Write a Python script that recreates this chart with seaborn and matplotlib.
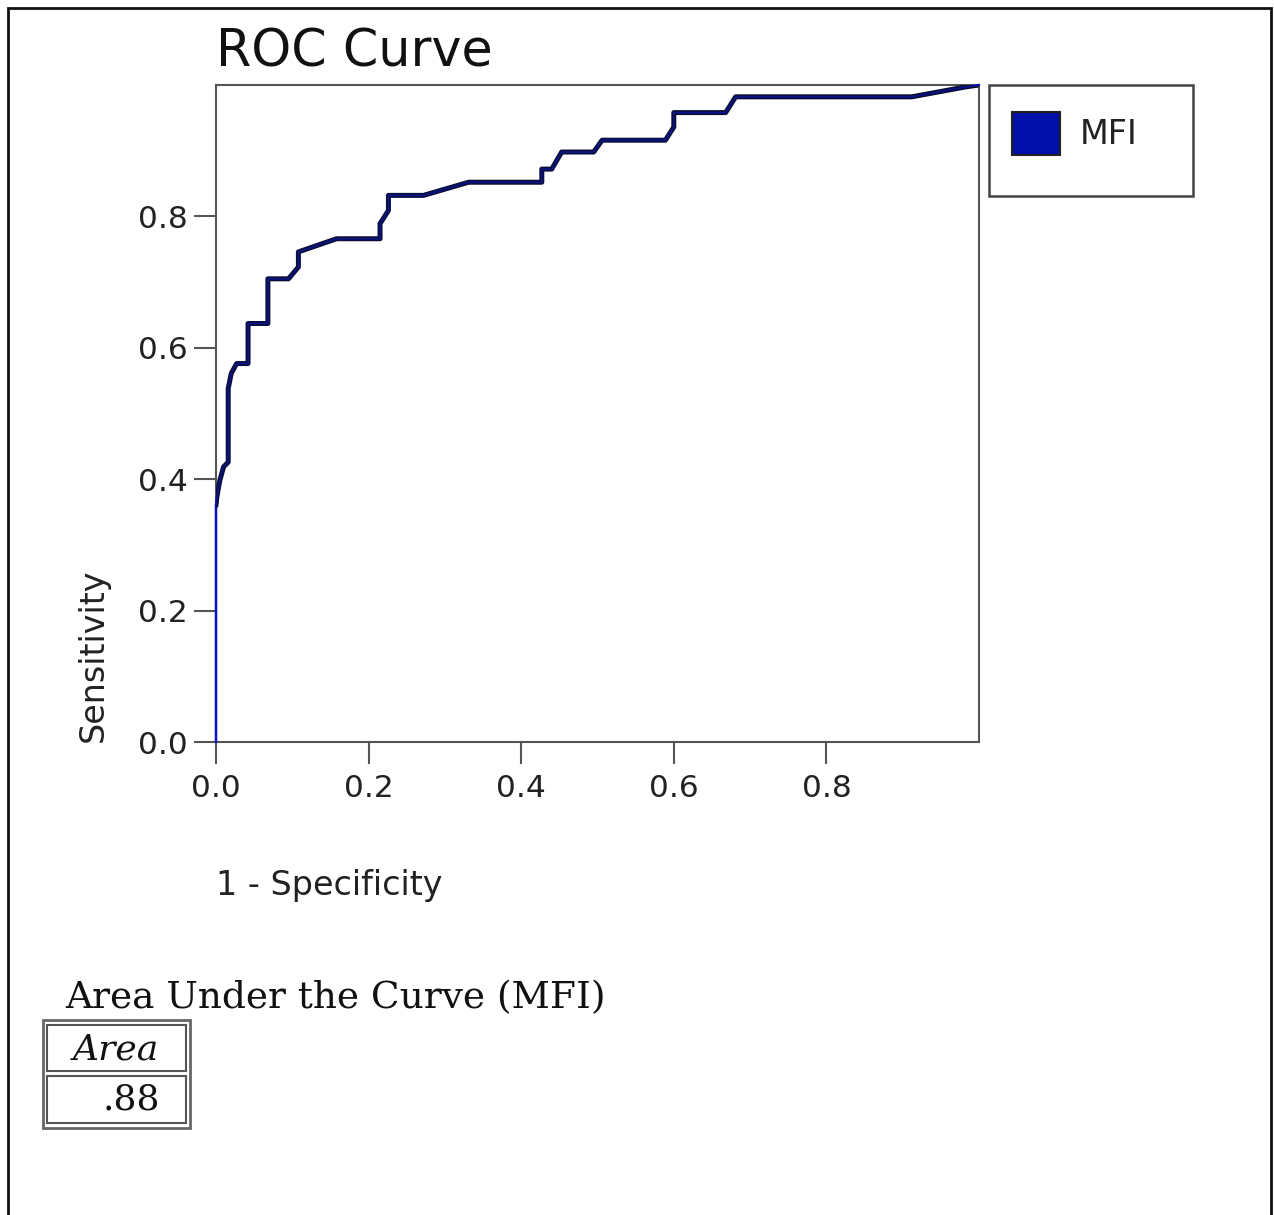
import pandas as pd
import seaborn as sns
import matplotlib
matplotlib.use("Agg")
import matplotlib.pyplot as plt
from matplotlib.patches import Patch, Rectangle

# Pontos da curva ROC
fpr = [0.0, 0.0, 0.001, 0.005, 0.010, 0.016, 0.016, 0.020, 0.027, 0.042, 0.042,
       0.068, 0.068, 0.095, 0.108, 0.108, 0.158, 0.215, 0.215, 0.226, 0.226,
       0.272, 0.331, 0.427, 0.427, 0.440, 0.453, 0.495, 0.506, 0.589, 0.600,
       0.600, 0.668, 0.681, 0.912, 0.982, 1.0]
tpr = [0.0, 0.360, 0.372, 0.398, 0.419, 0.426, 0.538, 0.561, 0.576, 0.576, 0.637,
       0.637, 0.705, 0.705, 0.723, 0.746, 0.766, 0.766, 0.789, 0.809, 0.832,
       0.832, 0.852, 0.852, 0.872, 0.872, 0.898, 0.898, 0.916, 0.916, 0.936,
       0.958, 0.958, 0.982, 0.982, 0.997, 1.0]
serie = "MFI"
area = ".88"
ticks = [0.0, 0.2, 0.4, 0.6, 0.8]

df = pd.DataFrame({"fpr": fpr, "tpr": tpr})

sns.set_style("white")
plt.rcParams["font.family"] = ["DejaVu Sans"]

W, H = 1274, 1215
fig = plt.figure(figsize=(W / 100, H / 100), dpi=100)
ax = fig.add_axes([216 / W, 1 - 742 / H, 763 / W, 657 / H])

# linha azul fina + contorno escuro
sns.lineplot(data=df, x="fpr", y="tpr", sort=False, estimator=None,
             color="#0a14c8", lw=1.8, ax=ax, clip_on=False, zorder=5)
sns.lineplot(data=df.iloc[1:], x="fpr", y="tpr", sort=False, estimator=None,
             color="#0b0e3a", lw=3.6, ax=ax, zorder=6)
sns.lineplot(data=df.iloc[1:], x="fpr", y="tpr", sort=False, estimator=None,
             color="#0a1496", lw=1.0, ax=ax, zorder=7)

ax.set_xlim(0, 1)
ax.set_ylim(0, 1)
ax.set_xticks(ticks)
ax.set_yticks(ticks)
ax.set_xticklabels([f"{t:.1f}" for t in ticks])
ax.set_yticklabels([f"{t:.1f}" for t in ticks])
ax.tick_params(axis="both", which="major", direction="out", length=16, width=1.5,
               color="#555555", labelsize=22.5, labelcolor="#222222", pad=4,
               bottom=True, left=True)
ax.tick_params(axis="x", pad=7)
for sp in ax.spines.values():
    sp.set_color("#555555")
    sp.set_linewidth(1.5)

ax.set_title("ROC Curve", loc="left", fontsize=36.5, pad=13, color="#111111")
ax.set_xlabel("1 - Specificity", fontsize=24, color="#222222", ha="left", va="center")
ax.xaxis.set_label_coords(0.0, -0.218)
ax.set_ylabel("Sensitivity", fontsize=24, color="#222222", loc="bottom")
ax.yaxis.set_label_coords(-0.139, 0.0)

# legenda
fig.patches.append(Rectangle((989 / W, 1 - 196 / H), 204 / W, 111 / H,
                             transform=fig.transFigure, fill=False,
                             edgecolor="#444444", lw=1.8))
leg = fig.legend(handles=[Patch(facecolor="#0010a8", edgecolor="#222222", lw=1.5, label=serie)],
                 loc="upper left", bbox_to_anchor=(995 / W, 1 - 95 / H),
                 frameon=False, fontsize=24, borderpad=0, handlelength=1.45,
                 handleheight=1.6, handletextpad=0.6, labelcolor="#222222")

# tabela da área
fig.text(65 / W, 1 - 998 / H, "Area Under the Curve (MFI)", family="DejaVu Serif",
         fontsize=27, va="center", ha="left", color="#111111")
fig.patches.append(Rectangle((43 / W, 1 - 1128 / H), 147 / W, 108 / H,
                             transform=fig.transFigure, fill=False,
                             edgecolor="#666666", lw=2))
for top, bot in [(1025, 1071), (1076, 1123)]:
    fig.patches.append(Rectangle((47 / W, 1 - bot / H), 139 / W, (bot - top) / H,
                                 transform=fig.transFigure, fill=False,
                                 edgecolor="#555555", lw=1.5))
fig.text(116 / W, 1 - 1049 / H, "Area", family="DejaVu Serif", style="italic",
         fontsize=26, va="center", ha="center", color="#111111")
fig.text(160 / W, 1 - 1100 / H, area, family="DejaVu Serif",
         fontsize=26, va="center", ha="right", color="#111111")

# moldura externa
fig.patches.append(Rectangle((8 / W, -0.01), 1263 / W, 1 - 8 / H + 0.01,
                             transform=fig.transFigure, fill=False,
                             edgecolor="#111111", lw=2))

fig.savefig("out.png", dpi=100)
